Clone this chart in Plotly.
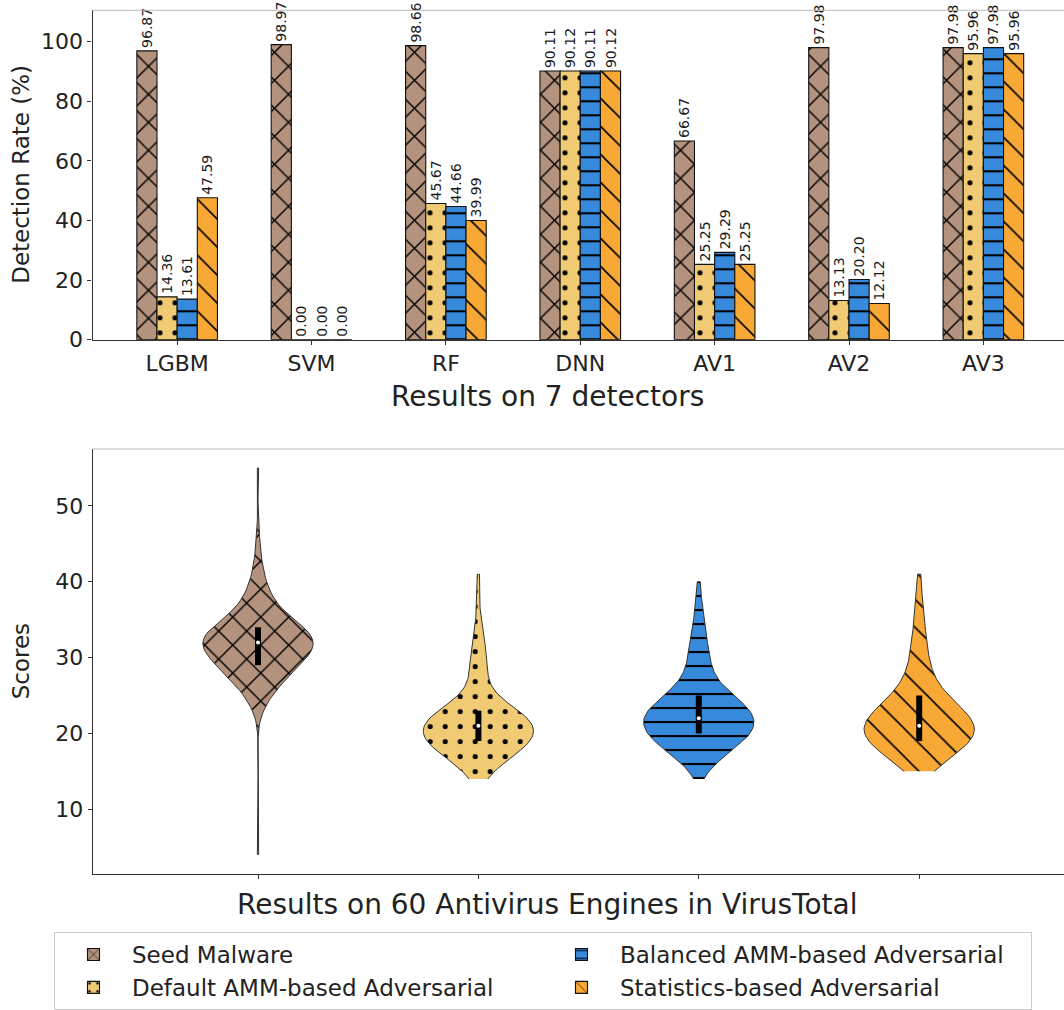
import numpy as np
import plotly.graph_objects as go

# ---------------- data ----------------
detectors = ["LGBM", "SVM", "RF", "DNN", "AV1", "AV2", "AV3"]
series_names = ["Seed Malware", "Default AMM-based Adversarial",
                "Balanced AMM-based Adversarial", "Statistics-based Adversarial"]

seed_rates = [96.87, 98.97, 98.66, 90.11, 66.67, 97.98, 97.98]
default_rates = [14.36, 0.00, 45.67, 90.12, 25.25, 13.13, 95.96]
balanced_rates = [13.61, 0.00, 44.66, 90.11, 29.29, 20.20, 97.98]
statistics_rates = [47.59, 0.00, 39.99, 90.12, 25.25, 12.12, 95.96]

# VirusTotal scores (value -> number of samples), estimated from the violins
seed_scores = [4, 23, 24, 25, 26, 27, 28, 29, 30, 31, 32, 33, 34, 35, 36, 37, 38, 39, 40, 41, 42, 43, 44, 45, 47, 55]
seed_counts = [1, 2, 3, 5, 7, 10, 13, 16, 19, 22, 24, 23, 19, 12, 9, 7, 5, 4, 3, 2, 2, 1, 1, 1, 1, 1]

default_scores = [14, 15, 16, 17, 18, 19, 20, 21, 22, 23, 24, 25, 26, 27, 28, 29, 30, 31, 32, 33, 34, 35, 36, 38, 40, 41]
default_counts = [4, 6, 10, 16, 22, 26, 28, 28, 25, 20, 12, 7, 5, 4, 4, 4, 4, 4, 3, 2, 2, 1, 1, 1, 1, 1]

balanced_scores = [14, 15, 16, 17, 18, 19, 20, 21, 22, 23, 24, 25, 26, 27, 28, 29, 30, 31, 32, 33, 34, 35, 36, 37, 38, 39, 40]
balanced_counts = [1, 3, 6, 11, 16, 20, 24, 26, 26, 24, 20, 15, 10, 7, 6, 5, 5, 4, 4, 3, 3, 2, 2, 1, 1, 1, 1]

statistics_scores = [15, 16, 17, 18, 19, 20, 21, 22, 23, 24, 25, 26, 27, 28, 29, 30, 31, 32, 33, 34, 35, 36, 37, 38, 39, 40, 41]
statistics_counts = [6, 8, 13, 18, 22, 24, 24, 22, 18, 14, 11, 8, 6, 5, 4, 4, 3, 3, 3, 2, 2, 2, 1, 1, 1, 1, 1]

# ---------------- style ----------------
colors = ["#B4937E", "#F0CB74", "#3789DC", "#F8A834"]
patterns = [
    dict(shape="x", size=19.8, solidity=0.14),
    dict(shape=".", size=15, solidity=0.09),
    dict(shape="-", size=14, solidity=0.15),
    dict(shape="\\", size=19.8, solidity=0.08),
]
legend_rank = [1, 3, 2, 4]
FONT = "DejaVu Sans"
W, H = 1064, 1010

rates = [seed_rates, default_rates, balanced_rates, statistics_rates]
score_sets = [(seed_scores, seed_counts), (default_scores, default_counts),
              (balanced_scores, balanced_counts), (statistics_scores, statistics_counts)]

fig = go.Figure()

# ---------------- top: grouped bars ----------------
for i in range(4):
    fig.add_trace(go.Bar(
        x=detectors, y=rates[i], name=series_names[i],
        marker=dict(color=colors[i], line=dict(color="#111111", width=1.1),
                    pattern=dict(fgcolor="#000000", fgopacity=1, bgcolor=colors[i], **patterns[i])),
        texttemplate="%{y:.2f}", textposition="outside", textangle=-90,
        textfont=dict(family=FONT, size=14, color="#1a1a1a"),
        constraintext="none", cliponaxis=False,
        legendrank=legend_rank[i], xaxis="x", yaxis="y",
    ))

# ---------------- bottom: violins (KDE, Scott bandwidth, cut at data range) ----------------
def kde_outline(samples, npts=100):
    s = np.asarray(samples, dtype=float)
    h = s.std(ddof=1) * s.size ** (-0.2)
    ys = np.linspace(s.min(), s.max(), npts)
    dens = np.exp(-0.5 * ((ys[:, None] - s[None, :]) / h) ** 2).sum(axis=1)
    return ys, dens / dens.max()

half_width = 0.25
for i, (vals, cnts) in enumerate(score_sets):
    pos = i + 1
    samples = np.repeat(vals, cnts)
    ys, d = kde_outline(samples)
    xs = np.concatenate([pos + half_width * d, (pos - half_width * d)[::-1]])
    yy = np.concatenate([ys, ys[::-1]])
    fig.add_trace(go.Scatter(
        x=xs, y=yy, mode="lines", fill="toself", fillcolor=colors[i],
        fillpattern=dict(fgcolor="#000000", fgopacity=1, bgcolor=colors[i], **patterns[i]),
        line=dict(color="#333333", width=1), showlegend=False, hoverinfo="skip",
        xaxis="x2", yaxis="y2",
    ))
    q1, med, q3 = np.percentile(samples, [25, 50, 75])
    fig.add_trace(go.Scatter(
        x=[pos, pos], y=[q1, q3], mode="lines", line=dict(color="#000000", width=6),
        showlegend=False, hoverinfo="skip", xaxis="x2", yaxis="y2"))
    fig.add_trace(go.Scatter(
        x=[pos], y=[med], mode="markers", marker=dict(color="white", size=4),
        showlegend=False, hoverinfo="skip", xaxis="x2", yaxis="y2"))

# ---------------- layout ----------------
def px_x(v):
    return v / W

def px_y(v):
    return 1 - v / H

axis_common = dict(showgrid=False, zeroline=False, showline=True, linecolor="#333333",
                   linewidth=1.2, ticks="outside", ticklen=4, tickwidth=1, tickcolor="#333333",
                   tickfont=dict(family=FONT, size=22, color="#222222"), automargin=False)

fig.update_layout(
    width=W, height=H, margin=dict(l=0, r=0, t=0, b=0),
    plot_bgcolor="white", paper_bgcolor="white",
    barmode="group", bargap=0.4, bargroupgap=0,
    font=dict(family=FONT, color="#222222"),
    xaxis=dict(domain=[px_x(92.5), 1], anchor="y", type="category",
               range=[-0.63, 6.60], **axis_common),
    yaxis=dict(domain=[px_y(340), px_y(10.3)], anchor="x", range=[0, 110.5],
               tickvals=[0, 20, 40, 60, 80, 100], **axis_common),
    xaxis2=dict(domain=[px_x(92.7), 1], anchor="y2", range=[0.25, 4.657],
                tickvals=[1, 2, 3, 4], ticktext=["", "", "", ""], **axis_common),
    yaxis2=dict(domain=[px_y(875), px_y(449.5)], anchor="x2", range=[1.45, 57.5],
                tickvals=[10, 20, 30, 40, 50], **axis_common),
    legend=dict(orientation="h", x=px_x(54), y=px_y(933), xanchor="left", yanchor="top",
                bordercolor="#CCCCCC", borderwidth=1, bgcolor="white",
                font=dict(family=FONT, size=23, color="#222222"),
                entrywidth=406, entrywidthmode="pixels", itemwidth=67,
                traceorder="normal", tracegroupgap=0),
    showlegend=True,
    shapes=[
        dict(type="line", xref="paper", yref="paper", x0=px_x(92.5), x1=1,
             y0=px_y(10.3), y1=px_y(10.3), line=dict(color="#BBBBBB", width=1)),
        dict(type="line", xref="paper", yref="paper", x0=px_x(92.7), x1=1,
             y0=px_y(449.5), y1=px_y(449.5), line=dict(color="#BBBBBB", width=1)),
    ],
    annotations=[
        dict(text="Detection Rate (%)", xref="paper", yref="paper", x=px_x(21), y=px_y(175),
             textangle=-90, showarrow=False, font=dict(family=FONT, size=23, color="#222222"),
             xanchor="center", yanchor="middle"),
        dict(text="Scores", xref="paper", yref="paper", x=px_x(21), y=px_y(662),
             textangle=-90, showarrow=False, font=dict(family=FONT, size=23, color="#222222"),
             xanchor="center", yanchor="middle"),
        dict(text="Results on 7 detectors", xref="paper", yref="paper", x=px_x(547), y=px_y(397),
             showarrow=False, font=dict(family=FONT, size=28, color="#222222"),
             xanchor="center", yanchor="middle"),
        dict(text="Results on 60 Antivirus Engines in VirusTotal", xref="paper", yref="paper",
             x=px_x(547), y=px_y(905), showarrow=False,
             font=dict(family=FONT, size=28, color="#222222"),
             xanchor="center", yanchor="middle"),
    ],
)

fig.write_html("out.html")
